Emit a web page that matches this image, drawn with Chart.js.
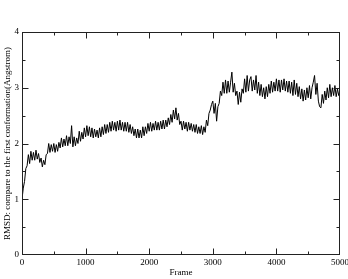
<!DOCTYPE html>
<html>
<head>
<meta charset="utf-8">
<script src="https://cdn.jsdelivr.net/npm/chart.js@4"></script>
<style>
  html, body { margin: 0; padding: 0; background: #fff; }
  #wrap { width: 348px; height: 279px; }
</style>
</head>
<body>
<div id="wrap"><canvas id="rmsd-chart"></canvas></div>
<script>
// one sample every 20 frames (high / low of the noisy trace)
const frameStep = 20;
const rmsd = [
  1.0, 1.2, 1.32, 1.55, 1.6,
  1.8, 1.64, 1.86, 1.7, 1.84,
  1.7, 1.88, 1.72, 1.82, 1.66,
  1.74, 1.58, 1.7, 1.62, 1.8,
  1.82, 2.0, 1.84, 1.98, 1.86,
  2.0, 1.84, 1.98, 1.86, 2.02,
  1.92, 2.1, 1.94, 2.08, 1.96,
  2.14, 1.96, 2.12, 2.0, 2.32,
  1.94, 2.12, 1.96, 2.1, 2.0,
  2.22, 2.04, 2.2, 2.08, 2.28,
  2.12, 2.32, 2.14, 2.3, 2.12,
  2.28, 2.1, 2.26, 2.12, 2.24,
  2.1, 2.28, 2.12, 2.3, 2.16,
  2.34, 2.18, 2.34, 2.2, 2.38,
  2.22, 2.4, 2.24, 2.38, 2.22,
  2.4, 2.24, 2.42, 2.24, 2.38,
  2.22, 2.38, 2.22, 2.38, 2.2,
  2.34, 2.18, 2.3, 2.14, 2.26,
  2.1, 2.26, 2.1, 2.24, 2.1,
  2.3, 2.14, 2.3, 2.18, 2.36,
  2.22, 2.38, 2.22, 2.36, 2.24,
  2.4, 2.24, 2.38, 2.24, 2.4,
  2.26, 2.42, 2.26, 2.42, 2.3,
  2.46, 2.34, 2.52, 2.38, 2.6,
  2.44, 2.64, 2.42, 2.54, 2.34,
  2.4, 2.24, 2.4, 2.26, 2.38,
  2.22, 2.38, 2.24, 2.36, 2.22,
  2.34, 2.2, 2.34, 2.18, 2.3,
  2.18, 2.32, 2.16, 2.3, 2.2,
  2.42, 2.32, 2.54, 2.6, 2.7,
  2.76, 2.54, 2.72, 2.4, 2.66,
  2.72, 2.94, 2.86, 3.1, 2.9,
  3.14, 2.9, 3.12, 2.92, 3.1,
  3.28, 2.92, 3.08, 2.86, 2.94,
  2.7, 2.92, 2.74, 2.98, 2.9,
  3.16, 2.92, 3.22, 2.94, 3.14,
  3.2, 2.94, 3.14, 2.96, 3.22,
  2.9, 3.1, 2.86, 3.06, 2.84,
  3.0, 2.8, 3.02, 2.84, 3.06,
  2.9, 3.12, 2.92, 3.1, 2.94,
  3.16, 2.94, 3.14, 2.92, 3.14,
  2.96, 3.16, 2.94, 3.12, 2.92,
  3.12, 2.9, 3.1, 2.86, 3.14,
  2.88, 3.08, 2.84, 3.02, 2.8,
  2.98, 2.76, 2.96, 2.78, 3.0,
  2.82, 3.04, 2.8, 3.0, 3.1,
  3.22, 2.88, 3.08, 2.76, 2.66,
  2.64, 2.88, 2.72, 2.94, 2.78,
  3.0, 2.82, 3.06, 2.84, 3.0,
  2.86, 3.04, 2.84, 2.98, 2.86,
  2.96
];
const frames = rmsd.map((v, i) => i * frameStep);

const serif = "'Liberation Serif', 'DejaVu Serif', serif";

// box round the plot with inward ticks on all four sides
const frameBox = {
  id: 'frameBox',
  afterDatasetsDraw(chart) {
    const { ctx, chartArea: a, scales: { x, y } } = chart;
    const L = Math.round(a.left) + 0.5, R = Math.round(a.right) - 0.5;
    const T = Math.round(a.top) + 0.5, B = Math.round(a.bottom) - 0.5;
    const clamp = (v, lo, hi) => Math.min(hi, Math.max(lo, v));
    ctx.save();
    ctx.strokeStyle = '#222';
    ctx.lineWidth = 1;
    ctx.strokeRect(L, T, R - L, B - T);
    ctx.beginPath();
    x.ticks.forEach(t => {
      const px = clamp(Math.round(x.getPixelForValue(t.value)) + 0.5, L, R);
      const len = t.value % 1000 === 0 ? 6 : 3;
      ctx.moveTo(px, B); ctx.lineTo(px, B - len);
      ctx.moveTo(px, T); ctx.lineTo(px, T + len);
    });
    y.ticks.forEach(t => {
      const py = clamp(Math.round(y.getPixelForValue(t.value)) + 0.5, T, B);
      const len = t.value % 1 === 0 ? 6 : 3;
      ctx.moveTo(L, py); ctx.lineTo(L + len, py);
      ctx.moveTo(R, py); ctx.lineTo(R - len, py);
    });
    ctx.stroke();
    ctx.restore();
  }
};

new Chart(document.getElementById('rmsd-chart'), {
  type: 'line',
  data: {
    labels: frames,
    datasets: [{
      data: rmsd.map((v, i) => ({ x: frames[i], y: v })),
      borderColor: '#000',
      borderWidth: 1,
      pointRadius: 0,
      tension: 0,
      fill: false
    }]
  },
  options: {
    responsive: true,
    maintainAspectRatio: false,
    animation: false,
    layout: { padding: { top: 32, right: 8, left: 0, bottom: 0 } },
    plugins: { legend: { display: false }, tooltip: { enabled: false } },
    scales: {
      x: {
        type: 'linear',
        min: 0,
        max: 5000,
        afterFit(s) { s.height = 24; s.paddingLeft = 0; s.paddingRight = 0; },
        grid: { display: false, drawTicks: false },
        border: { display: false },
        ticks: {
          stepSize: 500,
          autoSkip: false,
          maxRotation: 0,
          padding: 2,
          color: '#000',
          font: { family: serif, size: 9 },
          callback: v => (v % 1000 === 0 ? String(v) : '')
        },
        title: {
          display: true,
          text: 'Frame',
          color: '#000',
          padding: 1,
          font: { family: serif, size: 9 }
        }
      },
      y: {
        min: 0,
        max: 4,
        afterFit(s) { s.width = 22; },
        grid: { display: false, drawTicks: false },
        border: { display: false },
        ticks: {
          stepSize: 0.5,
          autoSkip: false,
          padding: 3,
          color: '#000',
          font: { family: serif, size: 9 },
          callback: v => (v % 1 === 0 ? String(v) : '')
        },
        title: {
          display: true,
          text: 'RMSD: compare to the first conformation(Angstrom)',
          color: '#000',
          padding: 2,
          font: { family: serif, size: 9 }
        }
      }
    }
  },
  plugins: [frameBox]
});
</script>
</body>
</html>
